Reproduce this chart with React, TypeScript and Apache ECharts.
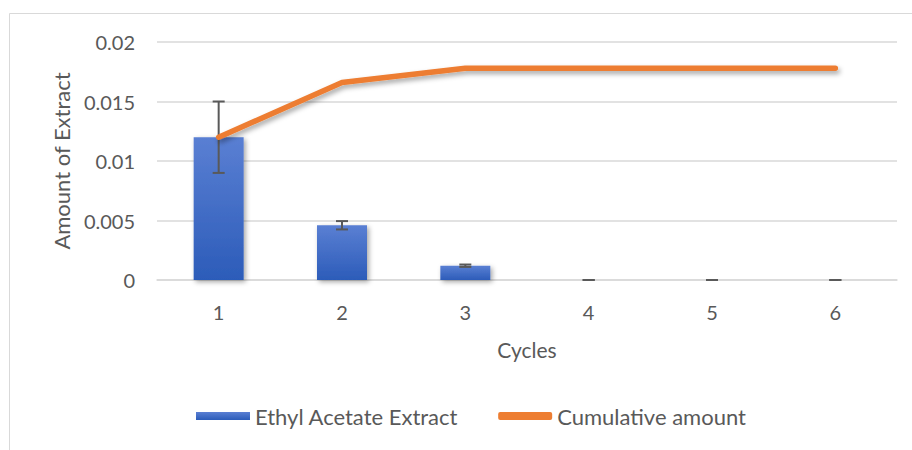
import React, { useEffect, useRef } from "react";
import * as echarts from "echarts";

const categories = ["1", "2", "3", "4", "5", "6"];
const extractValues = [0.012, 0.0046, 0.0012, 0, 0, 0];
const extractErrors = [0.003, 0.00035, 0.0001, 0, 0, 0];
const cumulativeValues = [0.012, 0.0166, 0.0178, 0.0178, 0.0178, 0.0178];
const yTicks = { min: 0, max: 0.02, interval: 0.005 };

const FONT = "Lato, 'Open Sans', sans-serif";
const TEXT = "#595959";

export default function App() {
  const ref = useRef<HTMLDivElement>(null);
  useEffect(() => {
    const chart = echarts.init(ref.current!, null, { renderer: "svg" });
    const errData = extractValues.map((v, i) => [i, v - extractErrors[i], v + extractErrors[i]]);
    chart.setOption({
      animation: false,
      textStyle: { fontFamily: FONT, color: TEXT },
      graphic: [
        {
          type: "rect",
          shape: { x: 9.5, y: 13.5, width: 1000, height: 1000 },
          style: { fill: "none", stroke: "#D9D9D9", lineWidth: 1 },
          silent: true,
        },
      ],
      grid: { left: 157, right: 15, top: 42, bottom: 170 },
      legend: {
        left: 191,
        top: 400,
        itemWidth: 54,
        itemHeight: 8,
        itemGap: 40,
        textStyle: { fontFamily: FONT, fontSize: 22, color: TEXT },
        data: [
          { name: "Ethyl Acetate Extract", icon: "rect" },
          { name: "Cumulative amount", icon: "roundRect" },
        ],
      },
      xAxis: {
        type: "category",
        data: categories,
        name: "Cycles",
        nameLocation: "middle",
        nameGap: 59,
        nameTextStyle: { fontFamily: FONT, fontSize: 21, color: TEXT },
        axisLine: { lineStyle: { color: "#D9D9D9", width: 1.5 } },
        axisTick: { show: false },
        axisLabel: { fontFamily: FONT, fontSize: 20, color: TEXT, margin: 22 },
      },
      yAxis: {
        type: "value",
        min: yTicks.min,
        max: yTicks.max,
        interval: yTicks.interval,
        name: "Amount of Extract",
        nameLocation: "middle",
        nameRotate: 90,
        nameGap: 85,
        nameTextStyle: { fontFamily: FONT, fontSize: 22, color: TEXT },
        axisLine: { show: false },
        axisTick: { show: false },
        splitLine: { lineStyle: { color: "#D9D9D9", width: 1.5 } },
        axisLabel: {
          fontFamily: FONT,
          fontSize: 20,
          color: TEXT,
          margin: 22,
          formatter: (v: number) => String(+v.toFixed(3)),
        },
      },
      series: [
        {
          name: "Ethyl Acetate Extract",
          type: "bar",
          data: extractValues,
          barWidth: 50,
          itemStyle: {
            color: new echarts.graphic.LinearGradient(0, 0, 0, 1, [
              { offset: 0, color: "#5A7FD3" },
              { offset: 1, color: "#2C5CB9" },
            ]),
            shadowColor: "rgba(0,0,0,0.35)",
            shadowBlur: 5,
            shadowOffsetX: 2,
            shadowOffsetY: 2,
          },
          z: 2,
        },
        {
          name: "errors",
          type: "custom",
          data: errData,
          z: 3,
          renderItem: (params: any, api: any) => {
            const x = api.value(0);
            const lo = api.coord([x, api.value(1)]);
            const hi = api.coord([x, api.value(2)]);
            const hw = 6;
            const style = { stroke: "#595959", lineWidth: 2 };
            return {
              type: "group",
              children: [
                { type: "line", shape: { x1: lo[0], y1: lo[1], x2: hi[0], y2: hi[1] }, style },
                { type: "line", shape: { x1: lo[0] - hw, y1: lo[1], x2: lo[0] + hw, y2: lo[1] }, style },
                { type: "line", shape: { x1: hi[0] - hw, y1: hi[1], x2: hi[0] + hw, y2: hi[1] }, style },
              ],
            };
          },
        },
        {
          name: "Cumulative amount",
          type: "line",
          data: cumulativeValues,
          symbol: "none",
          z: 4,
          itemStyle: { color: "#ED7D31" },
          lineStyle: {
            color: "#ED7D31",
            width: 5.5,
            cap: "round",
            join: "round",
            shadowColor: "rgba(0,0,0,0.35)",
            shadowBlur: 5,
            shadowOffsetX: 2,
            shadowOffsetY: 3,
          },
        },
      ],
    });
    return () => chart.dispose();
  }, []);
  return (
    <div
      ref={ref}
      style={{ position: "fixed", left: 0, top: 0, width: 912, height: 450, background: "#fff" }}
    />
  );
}
